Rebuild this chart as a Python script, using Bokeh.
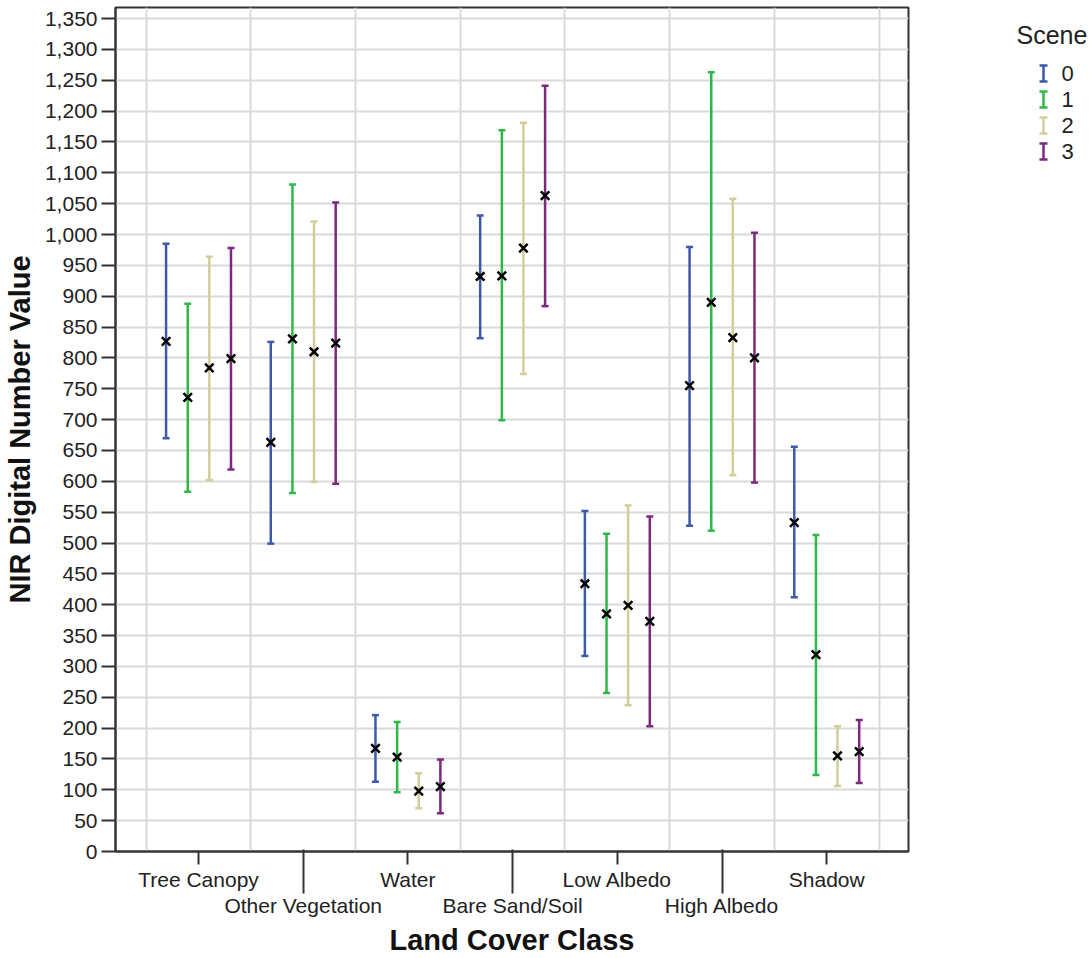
from bokeh.plotting import figure
from bokeh.layouts import row
from bokeh.models import (Range1d, FixedTicker, NumeralTickFormatter, LinearAxis,
                          Grid, ColumnDataSource)
from bokeh.core.properties import value
from bokeh.embed import file_html
from bokeh.resources import INLINE

# ---- data -------------------------------------------------------------
categories = ["Tree Canopy", "Other Vegetation", "Water", "Bare Sand/Soil",
              "Low Albedo", "High Albedo", "Shadow"]
scene_names = ["0", "1", "2", "3"]

# mean and 95% interval bounds of NIR digital number, one list per scene
scene0_mean = [827, 663, 167, 932, 434, 755, 533]
scene0_low = [670, 499, 113, 832, 317, 528, 412]
scene0_high = [985, 826, 221, 1031, 552, 980, 656]

scene1_mean = [736, 831, 153, 933, 385, 890, 319]
scene1_low = [583, 581, 96, 699, 257, 520, 124]
scene1_high = [888, 1081, 210, 1169, 515, 1263, 513]

scene2_mean = [784, 810, 98, 978, 399, 833, 155]
scene2_low = [602, 599, 70, 774, 237, 610, 106]
scene2_high = [964, 1021, 127, 1181, 561, 1058, 203]

scene3_mean = [799, 824, 105, 1063, 373, 800, 162]
scene3_low = [619, 596, 62, 884, 203, 598, 111]
scene3_high = [978, 1052, 149, 1241, 543, 1003, 213]

y_ticks = list(range(0, 1351, 50))

means = [scene0_mean, scene1_mean, scene2_mean, scene3_mean]
lows = [scene0_low, scene1_low, scene2_low, scene3_low]
highs = [scene0_high, scene1_high, scene2_high, scene3_high]

colors = ["#3E58AC", "#2EB848", "#D3CE97", "#7C287D"]
dodge = [-0.31, -0.103, 0.103, 0.31]

FONT = "Liberation Sans"
TXT = "#222222"
AXC = "#333333"

BORDER_TOP = 7
BORDER_BOTTOM = 107

# ---- main plot -----------------------------------------------------------
p = figure(width=912, height=958,
           x_range=Range1d(-0.793, 6.781), y_range=Range1d(0, 1368),
           x_axis_type=None, y_axis_type=None,
           output_backend="svg", toolbar_location=None,
           min_border_left=115, min_border_right=4,
           min_border_top=BORDER_TOP, min_border_bottom=BORDER_BOTTOM)
p.background_fill_color = "white"
p.border_fill_color = "white"
p.outline_line_color = AXC
p.outline_line_width = 2

# grid: horizontal every 50, vertical between classes
p.add_layout(Grid(dimension=1, ticker=FixedTicker(ticks=y_ticks),
                  grid_line_color="#d9d9d9", grid_line_width=2))
p.add_layout(Grid(dimension=0,
                  ticker=FixedTicker(ticks=[i - 0.5 for i in range(len(categories) + 1)]),
                  grid_line_color="#d9d9d9", grid_line_width=2))

# y axis
yax = LinearAxis(ticker=FixedTicker(ticks=y_ticks),
                 formatter=NumeralTickFormatter(format="0,0"),
                 axis_label="NIR Digital Number Value")
yax.major_tick_out = 14
yax.major_tick_in = 0
yax.minor_tick_out = 0
yax.major_label_standoff = 4
yax.axis_label_standoff = 6
yax.major_label_text_font = FONT
yax.major_label_text_font_size = "21px"
yax.major_label_text_color = TXT
yax.axis_label_text_font = FONT
yax.axis_label_text_font_style = "bold"
yax.axis_label_text_font_size = "29px"
yax.axis_label_text_color = "#111111"
yax.axis_line_color = AXC
yax.axis_line_width = 2
yax.major_tick_line_color = AXC
yax.major_tick_line_width = 2
p.add_layout(yax, "left")

# x axis, first row of class labels (even positions, short ticks)
even = list(range(0, len(categories), 2))
odd = list(range(1, len(categories), 2))
xa = LinearAxis(ticker=FixedTicker(ticks=even, minor_ticks=[]),
                major_label_overrides={i: categories[i] for i in even})
xa.major_tick_out = 13
xa.major_tick_in = 0
xa.minor_tick_out = 0
xa.major_label_standoff = 3
xa.major_label_text_font = FONT
xa.major_label_text_font_size = "21px"
xa.major_label_text_color = TXT
xa.axis_line_color = AXC
xa.axis_line_width = 2
xa.major_tick_line_color = AXC
xa.major_tick_line_width = 2
p.add_layout(xa, "below")

# second row of class labels (odd positions, long ticks pointing back up
# to the frame) plus the axis title
xb = LinearAxis(ticker=FixedTicker(ticks=odd, minor_ticks=[]),
                major_label_overrides={i: categories[i] for i in odd},
                axis_label="Land Cover Class")
xb.axis_line_color = None
xb.major_tick_line_color = AXC
xb.major_tick_line_width = 2
xb.minor_tick_line_color = None
xb.major_tick_out = 0
xb.major_tick_in = 44
xb.major_label_standoff = 0
xb.axis_label_standoff = 4
xb.major_label_text_font = FONT
xb.major_label_text_font_size = "21px"
xb.major_label_text_color = TXT
xb.axis_label_text_font = FONT
xb.axis_label_text_font_style = "bold"
xb.axis_label_text_font_size = "29px"
xb.axis_label_text_color = "#111111"
p.add_layout(xb, "below")

# error bars and means
for k in range(len(scene_names)):
    xs = [i + dodge[k] for i in range(len(categories))]
    src = ColumnDataSource(dict(x=xs, mean=means[k], low=lows[k], high=highs[k]))
    p.segment(x0="x", y0="low", x1="x", y1="high", source=src,
              line_color=colors[k], line_width=2.5)
    p.scatter(x="x", y="low", source=src, marker="dash", size=7,
              line_color=colors[k], line_width=2.5)
    p.scatter(x="x", y="high", source=src, marker="dash", size=7,
              line_color=colors[k], line_width=2.5)
for k in range(len(scene_names)):
    xs = [i + dodge[k] for i in range(len(categories))]
    src = ColumnDataSource(dict(x=xs, mean=means[k]))
    p.scatter(x="x", y="mean", source=src, marker="x", size=12,
              line_color="black", line_width=2.5)

# ---- legend panel (page coordinates) -------------------------------------
leg = figure(width=180, height=958,
             x_range=Range1d(912, 1092), y_range=Range1d(958 - BORDER_BOTTOM, BORDER_TOP),
             x_axis_type=None, y_axis_type=None,
             output_backend="svg", toolbar_location=None,
             min_border_left=0, min_border_right=0,
             min_border_top=BORDER_TOP, min_border_bottom=BORDER_BOTTOM,
             outline_line_color=None)
leg.grid.visible = False
leg.background_fill_color = "white"
leg.border_fill_color = "white"

leg.text(x=[1016], y=[34], text=["Scene"], text_font=value(FONT),
         text_font_size="25px", text_baseline="middle", text_color=TXT)

item_y = [73, 99, 125, 151]
lsrc = ColumnDataSource(dict(x=[1043] * 4, y=item_y,
                             y0=[v - 8 for v in item_y], y1=[v + 8 for v in item_y],
                             tx=[1061] * 4, label=scene_names, color=colors))
leg.segment(x0="x", y0="y0", x1="x", y1="y1", source=lsrc,
            line_color="color", line_width=2.5)
leg.scatter(x="x", y="y0", source=lsrc, marker="dash", size=8,
            line_color="color", line_width=2.5)
leg.scatter(x="x", y="y1", source=lsrc, marker="dash", size=8,
            line_color="color", line_width=2.5)
leg.text(x="tx", y="y", text="label", source=lsrc, text_font=value(FONT),
         text_font_size="22px", text_baseline="middle", text_color=TXT)

layout = row(p, leg)
open("out.html", "w").write(file_html(layout, INLINE))
